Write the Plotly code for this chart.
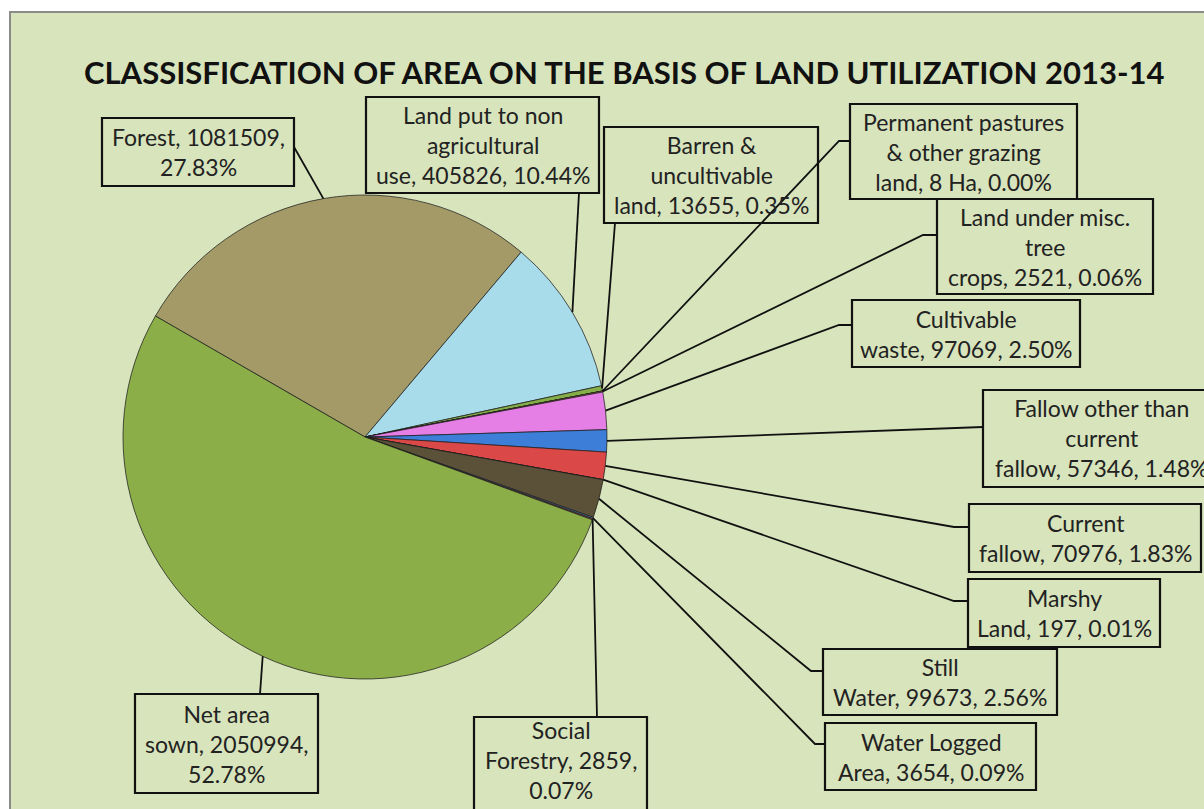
import math
import plotly.graph_objects as go

# ---------------- data ----------------
categories = [
    "Forest",
    "Land put to non agricultural use",
    "Barren & uncultivable land",
    "Permanent pastures & other grazing land",
    "Land under misc. tree crops",
    "Cultivable waste",
    "Fallow other than current fallow",
    "Current fallow",
    "Marshy Land",
    "Still Water",
    "Water Logged Area",
    "Social Forestry",
    "Net area sown",
]
area_ha = [1081509, 405826, 13655, 8, 2521, 97069, 57346, 70976, 197, 99673, 3654, 2859, 2050994]
# label text templates ({v}=value, {p}=percentage)
label_templates = [
    "Forest, {v},<br>{p}%",
    "Land put to non<br>agricultural<br>use, {v}, {p}%",
    "Barren &<br>uncultivable<br>land, {v}, {p}%",
    "Permanent pastures<br>& other grazing<br>land, {v} Ha, {p}%",
    "Land under misc.<br>tree<br>crops, {v}, {p}%",
    "Cultivable<br>waste, {v}, {p}%",
    "Fallow other than<br>current<br>fallow, {v}, {p}%",
    "Current<br>fallow, {v}, {p}%",
    "Marshy<br>Land, {v}, {p}%",
    "Still<br>Water, {v}, {p}%",
    "Water Logged<br>Area, {v}, {p}%",
    "Social<br>Forestry, {v},<br>{p}%",
    "Net area<br>sown, {v},<br>{p}%",
]
title_text = "CLASSISFICATION OF AREA ON THE BASIS OF LAND UTILIZATION 2013-14"

# ---------------- styles / layout ----------------
colors = ["#A39A68", "#A8DCEA", "#86AE48", "#4BACC6", "#F79646", "#E57FE6",
          "#3C7ED8", "#DA4848", "#8064A2", "#5A5138", "#4F81BD", "#C0504D", "#8CAE48"]
W, H = 1204, 809
CX, CY, R = 365, 437, 242
ROT = -60
LABEL_FONT = dict(family="Lato", size=23, color="#222222")
# label boxes (x0, y0, x1, y1) in pixels
boxes = [
    (102, 118, 294, 186), (366, 97, 599, 193), (604, 127, 818, 223),
    (850, 104, 1077, 199), (937, 199, 1153, 294), (852, 300, 1080, 367),
    (983, 390, 1220, 487), (969, 504, 1201, 572), (968, 579, 1160, 647),
    (823, 649, 1057, 715), (825, 723, 1036, 790), (474, 717, 647, 830),
    (135, 694, 318, 793),
]
# text centre y override for boxes that run off the page
text_y = {11: 760, 6: 438}
# leader line anchor on box (+ elbow)
anchors = [
    [(294, 147)], [(579, 193)], [(615, 223)],
    [(850, 141), (839, 141)], [(937, 235), (923, 235)], [(852, 325), (839, 325)],
    [(983, 427)], [(969, 527), (954, 527)], [(968, 601), (954, 601)],
    [(823, 671), (811, 671)], [(825, 744), (815, 744)], [(597, 717)],
    [(260, 694)],
]

total = sum(area_ha)
fig = go.Figure()
fig.add_trace(go.Pie(
    labels=categories, values=area_ha, sort=False, direction="clockwise",
    rotation=ROT, textinfo="none", hoverinfo="label+value+percent",
    marker=dict(colors=colors, line=dict(color="rgba(30,30,30,0.75)", width=1)),
    domain=dict(x=[(CX - R) / W, (CX + R) / W], y=[1 - (CY + R) / H, 1 - (CY - R) / H]),
    showlegend=False,
))
# invisible pixel axes for annotations and shapes
fig.add_trace(go.Scatter(x=[0, W], y=[0, H], mode="markers", marker=dict(opacity=0),
                         hoverinfo="skip", showlegend=False))

shapes = [dict(type="rect", xref="x", yref="y", x0=10, y0=12, x1=W + 20, y1=H + 20,
               fillcolor="#D8E4BC", line=dict(color="#8A8A8A", width=2), layer="below")]
annotations = [dict(xref="x", yref="y", x=624, y=72, text="<b>" + title_text + "</b>",
                    showarrow=False, font=dict(family="Lato", size=31, color="#111111"))]

cum = 0.0
for i, v in enumerate(area_ha):
    mid = ROT + 360.0 * (cum + v / 2.0) / total
    cum += v
    ex = CX + R * math.sin(math.radians(mid))
    ey = CY - R * math.cos(math.radians(mid))
    pts = anchors[i] + [(ex, ey)]
    path = "M " + " L ".join(f"{px:.1f},{py:.1f}" for px, py in pts)
    shapes.append(dict(type="path", xref="x", yref="y", path=path,
                       line=dict(color="#111111", width=1.8), layer="above"))
    x0, y0, x1, y1 = boxes[i]
    shapes.append(dict(type="rect", xref="x", yref="y", x0=x0, y0=y0, x1=x1, y1=y1,
                       line=dict(color="#111111", width=2.2), fillcolor="rgba(0,0,0,0)", layer="above"))
    pct = 100.0 * v / total
    txt = label_templates[i].format(v=v, p=f"{pct:.2f}")
    ycen = text_y.get(i, (y0 + y1) / 2)
    annotations.append(dict(xref="x", yref="y", x=(x0 + x1) / 2, y=ycen, text=txt,
                            showarrow=False, font=LABEL_FONT, align="center"))

fig.update_layout(
    width=W, height=H, margin=dict(l=0, r=0, t=0, b=0),
    paper_bgcolor="white", plot_bgcolor="rgba(0,0,0,0)",
    xaxis=dict(range=[0, W], visible=False, fixedrange=True),
    yaxis=dict(range=[H, 0], visible=False, fixedrange=True),
    shapes=shapes, annotations=annotations,
)
fig.write_html("out.html", config={"displayModeBar": False},
               post_script="document.body.style.margin='0px';document.body.style.overflow='hidden';")
